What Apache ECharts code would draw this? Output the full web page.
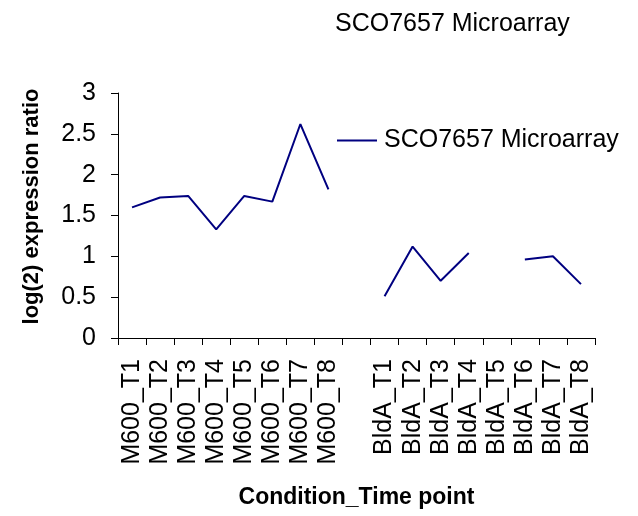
<!DOCTYPE html>
<html>
<head>
<meta charset="utf-8">
<script src="https://cdn.jsdelivr.net/npm/echarts@6/dist/echarts.min.js"></script>
<style>
  html, body { margin: 0; padding: 0; background: #fff; }
  #chart { width: 638px; height: 516px; }
</style>
</head>
<body>
<div id="chart"></div>
<script>
// categories along the x axis (a blank slot separates the two strains)
const categories = [
  'M600_T1', 'M600_T2', 'M600_T3', 'M600_T4', 'M600_T5', 'M600_T6', 'M600_T7', 'M600_T8',
  '',
  'BldA_T1', 'BldA_T2', 'BldA_T3', 'BldA_T4', 'BldA_T5', 'BldA_T6', 'BldA_T7', 'BldA_T8'
];
// log(2) expression ratio, '-' = no value
const sco7657 = [
  1.60, 1.72, 1.74, 1.33, 1.74, 1.67, 2.62, 1.82,
  '-',
  0.51, 1.12, 0.70, 1.04, '-', 0.96, 1.00, 0.66
];
const seriesName = 'SCO7657 Microarray';
const yTicks = { min: 0, max: 3, interval: 0.5 };

const font = 'Arial, "Liberation Sans", sans-serif';
const lineColor = '#000080';

const chart = echarts.init(document.getElementById('chart'));

chart.setOption({
  animation: false,
  title: {
    text: 'SCO7657 Microarray',
    left: 335,
    top: 12,
    padding: 0,
    textStyle: { fontFamily: font, fontSize: 25, fontWeight: 'normal', color: '#000' },
  },
  legend: {
    left: 337,
    top: 128,
    padding: 0,
    icon: 'rect',
    itemWidth: 40,
    itemHeight: 2,
    textStyle: { fontFamily: font, fontSize: 25, color: '#000', padding: [0, 0, 0, 2] },
    data: [seriesName],
  },
  grid: {
    left: 118,
    right: 43,
    top: 93,
    bottom: 178,
  },
  xAxis: {
    type: 'category',
    data: categories,
    boundaryGap: true,
    name: 'Condition_Time point',
    nameLocation: 'middle',
    nameGap: 148,
    nameTextStyle: { fontFamily: font, fontSize: 23, fontWeight: 'bold', color: '#000' },
    axisLine: { lineStyle: { color: '#000', width: 1 } },
    axisTick: { show: true, alignWithLabel: false, interval: 0, length: 7, lineStyle: { color: '#000' } },
    axisLabel: {
      interval: 0,
      rotate: 90,
      margin: 21,
      fontFamily: font,
      fontSize: 25,
      color: '#000',
    },
    splitLine: { show: false },
  },
  yAxis: {
    type: 'value',
    min: yTicks.min,
    max: yTicks.max,
    interval: yTicks.interval,
    name: 'log(2) expression ratio',
    nameLocation: 'middle',
    nameRotate: 90,
    nameGap: 75,
    nameTextStyle: {
      fontFamily: font,
      fontSize: 22,
      fontWeight: 'bold',
      color: '#000',
      padding: [0, 0, 0, 18],
    },
    axisLine: { show: true, lineStyle: { color: '#000', width: 1 } },
    axisTick: { show: true, length: 7, lineStyle: { color: '#000' } },
    axisLabel: { margin: 22, fontFamily: font, fontSize: 25, color: '#000' },
    splitLine: { show: false },
  },
  series: [
    {
      name: seriesName,
      type: 'line',
      data: sco7657,
      symbol: 'none',
      connectNulls: false,
      lineStyle: { color: lineColor, width: 2 },
      itemStyle: { color: lineColor },
    },
  ],
});
</script>
</body>
</html>
